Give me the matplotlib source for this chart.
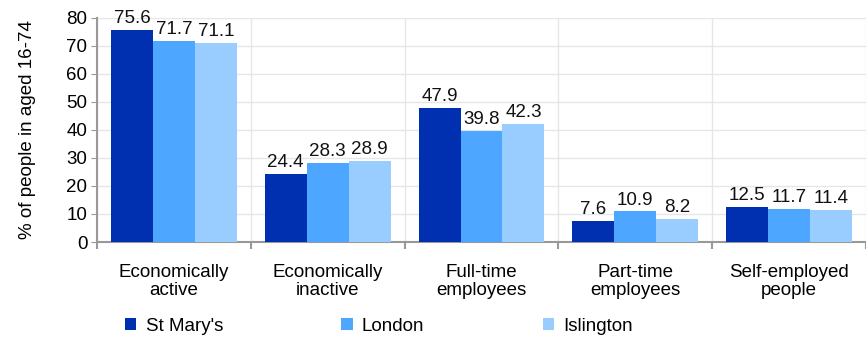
import matplotlib
matplotlib.use("Agg")
import matplotlib.pyplot as plt
import numpy as np
from matplotlib.ticker import FixedLocator

plt.rcParams['font.family'] = ['Liberation Sans', 'DejaVu Sans']

categories = ["Economically\nactive", "Economically\ninactive", "Full-time\nemployees",
              "Part-time\nemployees", "Self-employed\npeople"]
series_names = ["St Mary's", "London", "Islington"]
st_marys = [75.6, 24.4, 47.9, 7.6, 12.5]
london = [71.7, 28.3, 39.8, 10.9, 11.7]
islington = [71.1, 28.9, 42.3, 8.2, 11.4]
colors = ["#0030B0", "#4DA6FF", "#99CCFF"]
y_ticks = [0, 10, 20, 30, 40, 50, 60, 70, 80]

FS = 13.5
fig = plt.figure(figsize=(8.66, 3.38), dpi=100)
ax = fig.add_axes([0.112, 0.284, 0.888, 0.663])

x = np.arange(len(categories))
w = 0.273
data = [st_marys, london, islington]
handles = []
for i, (vals, c, name) in enumerate(zip(data, colors, series_names)):
    bars = ax.bar(x + (i - 1) * w, vals, w, color=c, label=name, zorder=3)
    handles.append(bars)
    for xi, v in zip(x + (i - 1) * w, vals):
        ax.text(xi, v + 1.0, f"{v:.1f}", ha="center", va="bottom", fontsize=FS, color="#111111")

ax.set_xlim(-0.5, len(categories) - 0.5)
ax.set_ylim(0, 80)
ax.set_yticks(y_ticks)
ax.tick_params(axis='y', labelsize=FS, length=4, color="#999999", pad=3)
ax.set_xticks(x)
ax.set_xticklabels(categories, fontsize=FS, linespacing=1.05)
ax.tick_params(axis='x', length=0, pad=16)
ax.xaxis.set_minor_locator(FixedLocator(np.arange(len(categories) + 1) - 0.5))
ax.tick_params(axis='x', which='minor', length=5, color="#999999", width=1.5)

ax.grid(axis='y', color="#E6E6E6", linewidth=1, zorder=0)
ax.grid(axis='x', which='minor', color="#E6E6E6", linewidth=1, zorder=0)
ax.grid(axis='x', which='major', visible=False)

for s in ['top', 'right']:
    ax.spines[s].set_visible(False)
for s in ['left', 'bottom']:
    ax.spines[s].set_color("#999999")
    ax.spines[s].set_linewidth(1.5)

ax.set_ylabel("% of people in aged 16-74", fontsize=FS, labelpad=22)

leg = fig.legend(handles=handles, labels=series_names, loc='center left',
                 bbox_to_anchor=(0.125, 0.035), ncol=3, frameon=False, fontsize=FS,
                 handlelength=0.6, handleheight=0.6, handletextpad=0.5, columnspacing=6.3)

fig.savefig("out.png", dpi=100)
